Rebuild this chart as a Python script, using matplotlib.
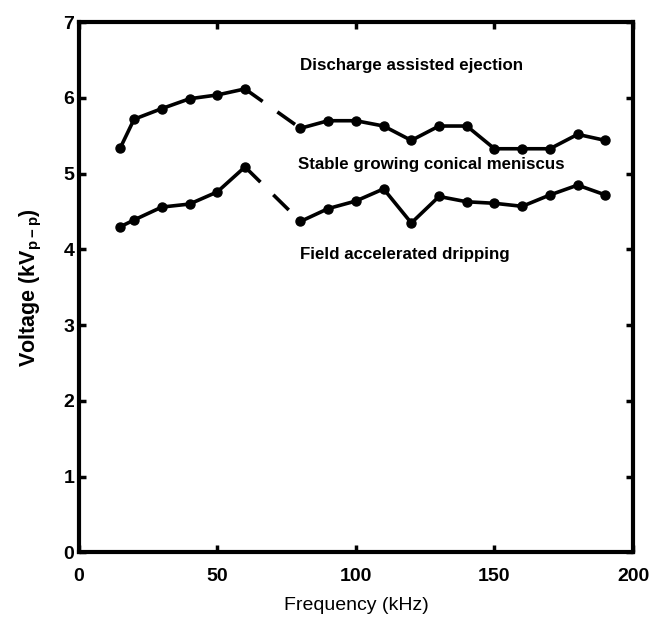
import matplotlib
matplotlib.use("Agg")
import matplotlib.pyplot as plt

# frequencies (kHz)
freq_a = [15, 20, 30, 40, 50, 60]
freq_b = [80, 90, 100, 110, 120, 130, 140, 150, 160, 170, 180, 190]

# upper boundary: stable cone -> discharge assisted ejection
upper_a = [5.34, 5.72, 5.86, 5.99, 6.04, 6.12]
upper_b = [5.60, 5.70, 5.70, 5.63, 5.44, 5.63, 5.63, 5.33, 5.33, 5.33, 5.52, 5.44]

# lower boundary: dripping -> stable cone
lower_a = [4.30, 4.39, 4.56, 4.60, 4.76, 5.09]
lower_b = [4.37, 4.54, 4.64, 4.80, 4.35, 4.70, 4.63, 4.61, 4.57, 4.72, 4.85, 4.72]

region_labels = ["Discharge assisted ejection",
                 "Stable growing conical meniscus",
                 "Field accelerated dripping"]
label_x = [80, 79, 80]
label_y = [6.43, 5.12, 3.93]

plt.rcParams['font.family'] = ['Liberation Sans', 'DejaVu Sans']

fig = plt.figure(figsize=(6.5, 6.18), dpi=100)
ax = fig.add_axes([0.121, 0.106, 0.853, 0.858])

for xa, ya, xb, yb in [(freq_a, upper_a, freq_b, upper_b),
                       (freq_a, lower_a, freq_b, lower_b)]:
    ax.plot(xa, ya, color='black', lw=2.6, marker='o', ms=6.5)
    ax.plot(xb, yb, color='black', lw=2.6, marker='o', ms=6.5)
    # dashed link across the gap
    ax.plot([xa[-1], xb[0]], [ya[-1], yb[0]], color='black', lw=2.6,
            dashes=(6, 5), dash_capstyle='butt')

for txt, tx, ty in zip(region_labels, label_x, label_y):
    ax.text(tx, ty, txt, fontsize=12.2, fontweight='bold', va='center', ha='left')

ax.set_xlim(0, 200)
ax.set_ylim(0, 7)
ax.set_xticks([0, 50, 100, 150, 200])
ax.set_yticks(range(0, 8))
ax.tick_params(direction='in', top=True, right=True, length=5, width=2.5,
               labelsize=14)
ax.tick_params(axis='x', pad=11)
ax.tick_params(axis='y', pad=3)
for lab in ax.get_xticklabels() + ax.get_yticklabels():
    lab.set_fontweight('bold')
for s in ax.spines.values():
    s.set_linewidth(3)

ax.set_xlabel("Frequency (kHz)", fontsize=14, labelpad=9)
ax.set_ylabel("Voltage (kV$_{\\mathregular{p-p}}$)", fontsize=15.5,
              fontweight='bold', labelpad=14)

fig.savefig("out.png", dpi=100)
